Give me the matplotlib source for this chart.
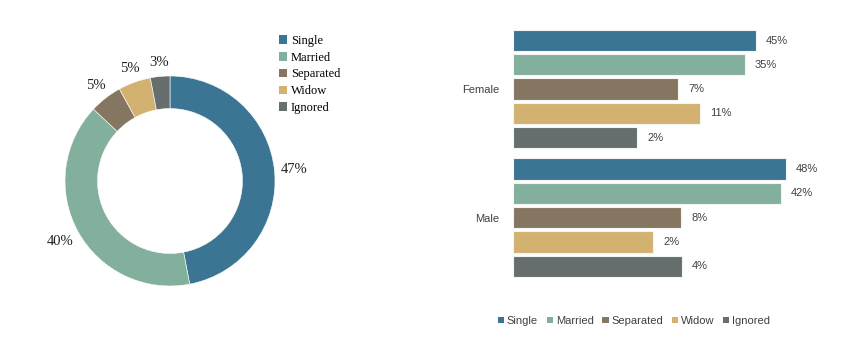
import numpy as np
import matplotlib.pyplot as plt
from matplotlib.patches import Patch

# marital status categories and colours
status = ['Single', 'Married', 'Separated', 'Widow', 'Ignored']
colors = ['#3b7593', '#83b09c', '#857661', '#d3b271', '#676f6e']

# overall share (donut)
total_pct = [47, 40, 5, 5, 3]

# share by sex (bar labels)
female_pct = [45, 35, 7, 11, 2]
male_pct = [48, 42, 8, 2, 4]

# drawn bar lengths as they appear in the picture (not proportional to labels)
female_len = [243, 232, 165, 187, 124]
male_len = [273, 268, 168, 140, 169]

groups = ['Female', 'Male']

W, H = 850, 343
fig = plt.figure(figsize=(W / 100, H / 100), dpi=100)

serif = ['Liberation Serif', 'DejaVu Serif']
sans = ['Liberation Sans', 'DejaVu Sans']

# ---- donut ----
L = 1.4
S = 2 * 105 * L
cx, cy = 170, 181
ax1 = fig.add_axes([(cx - S / 2) / W, (H - cy - S / 2) / H, S / W, S / H])
wedges, _ = ax1.pie(total_pct, colors=colors, startangle=90, counterclock=False,
                    radius=1.0, wedgeprops=dict(width=0.31, edgecolor='white', linewidth=0.4))
ax1.set_xlim(-L, L)
ax1.set_ylim(-L, L)
ax1.set_aspect('equal')
ax1.axis('off')

dists = [1.19, 1.19, 1.15, 1.14, 1.13]
for w, p, d in zip(wedges, total_pct, dists):
    ang = np.deg2rad((w.theta1 + w.theta2) / 2)
    ax1.text(d * np.cos(ang), d * np.sin(ang), f'{p}%', ha='center', va='center',
             fontsize=10.5, family=serif, color='#222222')

handles = [Patch(facecolor=c, edgecolor='none') for c in colors]
fig.legend(handles, status, loc='upper left', bbox_to_anchor=(279 / W, 1 - 35 / H),
           frameon=False, prop={'family': serif, 'size': 9}, handlelength=0.65,
           handleheight=0.65, handletextpad=0.3, labelspacing=0.38, borderpad=0,
           borderaxespad=0)

# ---- bars ----
pitch = 24.3
gap = 0.29
x0 = 513
top_px = 40.5 - 0.5 * pitch
bot_px = 40.5 + pitch * (5 + gap + 4 + 0.5)
ax2 = fig.add_axes([x0 / W, (H - bot_px) / H, 320 / W, (bot_px - top_px) / H])

n = len(status)
for g, (lens, pcts) in enumerate([(female_len, female_pct), (male_len, male_pct)]):
    ys = np.arange(n) + g * (n + gap)
    ax2.barh(ys, lens, height=0.88, color=colors, edgecolor='#f4f4f4', linewidth=0.8)
    for y, v, p in zip(ys, lens, pcts):
        ax2.text(v + 10, y, f'{p}%', ha='left', va='center', fontsize=8,
                 family=sans, color='#404040')

ax2.set_xlim(0, 320)
ax2.set_ylim(2 * n + gap - 0.5, -0.5)
ax2.set_yticks([2, 2 + n + gap])
ax2.set_yticklabels(groups, family=sans, fontsize=8, color='#404040')
ax2.tick_params(axis='y', length=0, pad=10)
ax2.set_xticks([])
for sp in ax2.spines.values():
    sp.set_visible(False)

fig.legend(handles, status, loc='center', bbox_to_anchor=(634 / W, 1 - 321 / H), ncol=5,
           frameon=False, prop={'family': sans, 'size': 8}, handlelength=0.55,
           handleheight=0.55, handletextpad=0.25, columnspacing=0.8, labelcolor='#404040',
           borderpad=0, borderaxespad=0)

fig.savefig('out.png', dpi=100)
